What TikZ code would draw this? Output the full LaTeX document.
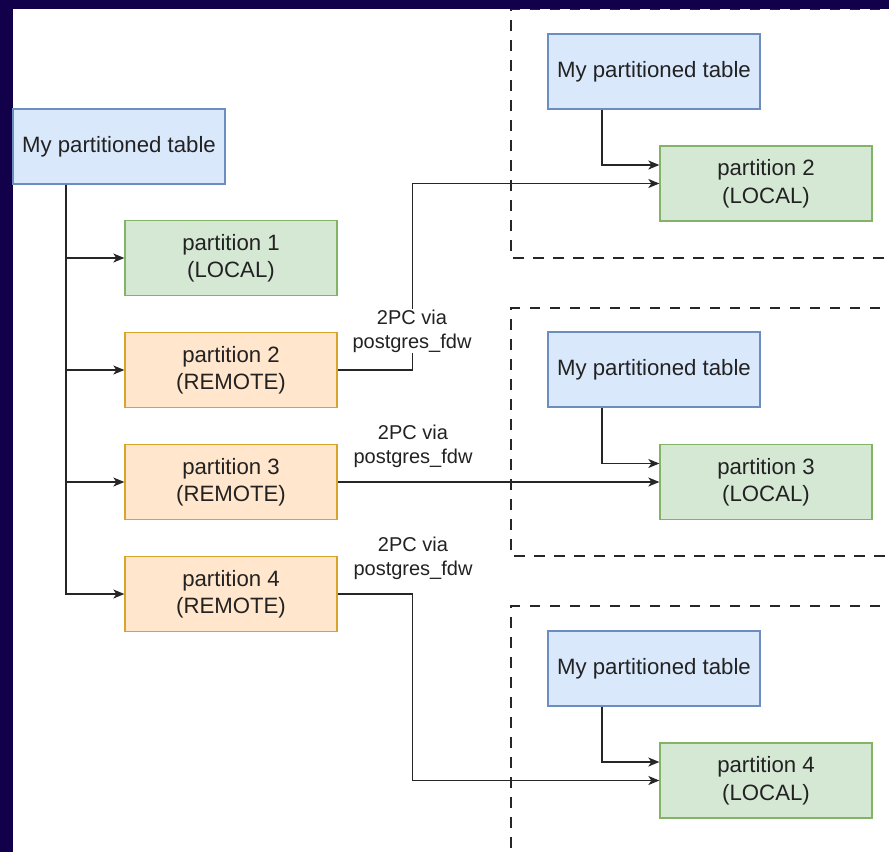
\documentclass[tikz,border=0pt]{standalone}
\usepackage{fontspec}
\setmainfont{Liberation Sans}
\usetikzlibrary{arrows.meta}
\definecolor{navy}{HTML}{12004A}
\definecolor{bluef}{HTML}{DAE8FC}\definecolor{blued}{HTML}{6C8EBF}
\definecolor{greenf}{HTML}{D5E8D4}\definecolor{greend}{HTML}{82B366}
\definecolor{orangef}{HTML}{FFE6CC}\definecolor{oranged}{HTML}{D7A52E}
\definecolor{txt}{HTML}{222222}
\tikzset{
  box/.style={rectangle, minimum width=212pt, minimum height=75pt, line width=1.3pt, inner sep=0pt,
    align=center, text=txt, font=\fontsize{22.2}{27.5}\selectfont},
  tbl/.style={box, fill=bluef, draw=blued},
  loc/.style={box, fill=greenf, draw=greend},
  rem/.style={box, fill=orangef, draw=oranged},
  arr/.style={line width=1.3pt, draw=black!85, -{Stealth[length=11pt,width=9pt,inset=3pt]}},
  lbl/.style={fill=white, align=center, text=txt, inner sep=1pt, font=\fontsize{20}{24}\selectfont},
  dbox/.style={line width=1.3pt, draw=black!85, dash pattern=on 10.5pt off 9.5pt}
}
\begin{document}
\begin{tikzpicture}[x=1pt,y=-1pt]
\useasboundingbox (0,0) rectangle (889,852);
\fill[navy] (0,0) rectangle (889,852);
\fill[white] (13,9) rectangle (889,852);
\begin{scope}
\clip (13,9) rectangle (889,852);
\draw[dbox] (900,9) -- (511,9) -- (511,258) -- (900,258);
\draw[dbox] (900,308) -- (511,308) -- (511,556) -- (900,556);
\draw[dbox] (900,606) -- (511,606) -- (511,900);
\end{scope}
% left side
\node[tbl] (t0) at (119,146.5) {My partitioned table};
\node[loc] (p1) at (231,258) {partition 1\\(LOCAL)};
\node[rem] (p2) at (231,370) {partition 2\\(REMOTE)};
\node[rem] (p3) at (231,482) {partition 3\\(REMOTE)};
\node[rem] (p4) at (231,594) {partition 4\\(REMOTE)};
% right side
\node[tbl] (t1) at (654,71.5) {My partitioned table};
\node[loc] (l2) at (766,183.5) {partition 2\\(LOCAL)};
\node[tbl] (t2) at (654,369.5) {My partitioned table};
\node[loc] (l3) at (766,482) {partition 3\\(LOCAL)};
\node[tbl] (t3) at (654,668.5) {My partitioned table};
\node[loc] (l4) at (766,780.5) {partition 4\\(LOCAL)};
% trunk
\foreach \p in {p1,p2,p3,p4} \draw[arr] ([xshift=-53pt]t0.south) |- (\p.west);
% right-side table links
\draw[arr] ([xshift=-52pt]t1.south) |- ([yshift=18.5pt]l2.west);
\draw[arr] ([xshift=-52pt]t2.south) |- ([yshift=18.5pt]l3.west);
\draw[arr] ([xshift=-52pt]t3.south) |- ([yshift=18.5pt]l4.west);
% remote links
\draw[arr] (p2.east) -- ++(75,0) |- (l2.west);
\draw[arr] (p3.east) -- (l3.west);
\draw[arr] (p4.east) -- ++(75,0) |- (l4.west);
\node[lbl] (c2) at (412,331) {2PC via\\postgres\_fdw};
\node[lbl] (c3) at (413,446) {2PC via\\postgres\_fdw};
\node[lbl] (c4) at (413,558) {2PC via\\postgres\_fdw};
\end{tikzpicture}
\end{document}
